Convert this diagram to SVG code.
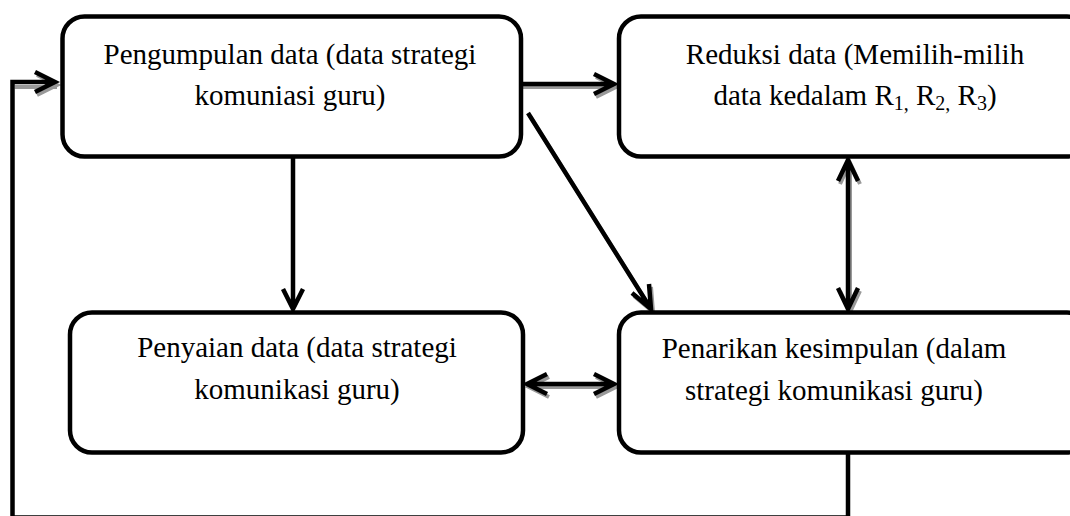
<svg xmlns="http://www.w3.org/2000/svg" xmlns:xlink="http://www.w3.org/1999/xlink" width="1070" height="516" viewBox="0 0 1070 516">
<style>
.box{fill:#fff;stroke:#000;stroke-width:4.5}
.t{font-family:"Liberation Serif","Times New Roman",serif;font-size:29px;fill:#000;text-anchor:middle}
.sub{font-size:20px}
.ln{fill:none;stroke:#000;stroke-width:4.5}
.sh{fill:none;stroke:#999;stroke-width:4}
</style>
<defs>
<path id="c-feedback" d="M848,453 V517.5 H12.5 V82 H55 M35,72 L55,82 L35,92"/>
<path id="c-1-2" d="M521,84 H614 M594,74 L614,84 L594,94"/>
<path id="c-1-4" d="M528,113 L651,309 M632,293 L651,309 L649,284"/>
<path id="c-1-3" d="M293,157 V309 M283,289 L293,309 L303,289"/>
<path id="c-2-4" d="M848,160 V309 M838,181 L848,160 L858,181 M838,288 L848,309 L858,288"/>
<path id="c-3-4" d="M527,384 H614 M547,374 L527,384 L547,394 M594,374 L614,384 L594,394"/>
</defs>
<g id="connectors">
<g transform="translate(2,3)">
<use xlink:href="#c-1-2" class="sh"/>
<use xlink:href="#c-1-4" class="sh"/>
<use xlink:href="#c-2-4" class="sh"/>
<use xlink:href="#c-3-4" class="sh"/>
<path class="sh" d="M12.5,84 H55 M35,72 L55,82 L35,92"/>
</g>
<use xlink:href="#c-feedback" class="ln"/>
<use xlink:href="#c-1-2" class="ln"/>
<use xlink:href="#c-1-4" class="ln"/>
<use xlink:href="#c-1-3" class="ln"/>
<use xlink:href="#c-2-4" class="ln"/>
<use xlink:href="#c-3-4" class="ln"/>
</g>
<g id="n1">
<rect class="box" x="62.5" y="16.5" width="458.5" height="140" rx="22"/>
<text class="t" x="290" y="64">Pengumpulan data (data strategi</text>
<text class="t" x="290" y="105">komuniasi guru)</text>
</g>
<g id="n2">
<rect class="box" x="619" y="16.5" width="470" height="140" rx="22"/>
<text class="t" x="855" y="64">Reduksi data (Memilih-milih</text>
<text class="t" x="855" y="105">data kedalam R<tspan class="sub" dy="5">1,</tspan><tspan dy="-5"> R</tspan><tspan class="sub" dy="5">2,</tspan><tspan dy="-5"> R</tspan><tspan class="sub" dy="5">3</tspan><tspan dy="-5">)</tspan></text>
</g>
<g id="n3">
<rect class="box" x="70" y="312.5" width="453" height="140" rx="22"/>
<text class="t" x="297" y="357">Penyaian data (data strategi</text>
<text class="t" x="297" y="399">komunikasi guru)</text>
</g>
<g id="n4">
<rect class="box" x="619" y="312.5" width="470" height="140" rx="22"/>
<text class="t" x="834" y="358">Penarikan kesimpulan (dalam</text>
<text class="t" x="834" y="400">strategi komunikasi guru)</text>
</g>
</svg>
